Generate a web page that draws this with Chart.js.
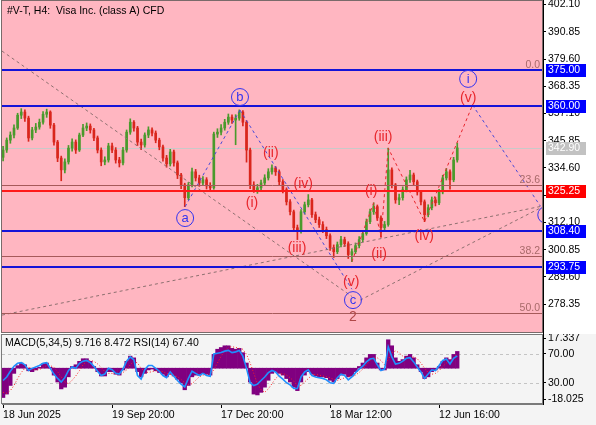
<!DOCTYPE html>
<html><head><meta charset="utf-8">
<script src="https://cdn.jsdelivr.net/npm/chart.js@4/dist/chart.umd.min.js"></script>
<style>
html,body{margin:0;padding:0;background:#fff;width:596px;height:425px;overflow:hidden}
#c1{position:absolute;left:0;top:0}
#c2{position:absolute;left:0;top:334px}
</style></head><body>
<canvas id="c1" width="596" height="334"></canvas>
<canvas id="c2" width="596" height="91"></canvas>
<script>
// ---------- DATA ----------
const dateTicks = [0, 30, 60, 90, 120];
const dateLabels = ['18 Jun 2025', '19 Sep 20:00', '17 Dec 20:00', '18 Mar 12:00', '12 Jun 16:00'];
const priceTicks = [402.10, 390.85, 379.60, 368.35, 357.10, 345.85, 334.60, 323.35, 312.10, 300.85, 289.60, 278.35];

const opens = [339.0,342.0,346.1,348.2,351.1,356.4,357.7,355.2,347.0,350.3,
351.5,353.5,356.8,357.7,352.3,345.3,338.7,333.8,337.1,342.8,
345.3,342.0,348.2,351.1,351.9,350.3,347.0,342.0,337.1,337.9,
343.7,342.0,337.9,336.7,342.0,349.4,353.5,351.1,345.3,344.1,
348.2,350.3,349.0,346.1,343.3,338.7,336.3,341.2,336.7,331.7,
327.6,322.3,327.6,333.0,330.5,328.4,329.7,327.2,326.4,348.6,
349.4,351.1,353.5,355.6,354.4,355.2,357.7,353.5,342.0,327.6,
325.6,326.4,328.4,330.5,333.0,334.6,333.0,328.9,325.6,320.6,
316.5,309.9,308.3,316.5,319.4,321.4,315.3,313.2,311.2,309.1,
306.6,301.7,300.0,302.9,305.0,303.3,298.8,300.0,302.5,305.0,
307.5,312.4,316.5,318.6,314.0,309.9,311.2,333.8,327.6,321.4,
322.3,325.6,329.7,331.7,328.9,324.7,320.6,315.3,318.2,321.4,
320.2,324.7,330.5,333.0,329.7,337.9];
const closes = [342.0,346.1,348.2,351.1,356.4,357.7,355.2,347.0,350.3,351.5,
353.5,356.8,357.7,352.3,345.3,338.7,333.8,337.1,342.8,345.3,
342.0,348.2,351.1,351.9,350.3,347.0,342.0,337.1,337.9,343.7,
342.0,337.9,336.7,342.0,349.4,353.5,351.1,345.3,344.1,348.2,
350.3,349.0,346.1,343.3,338.7,336.3,341.2,336.7,331.7,327.6,
322.3,327.6,333.0,330.5,328.4,329.7,327.2,326.4,348.6,349.4,
351.1,353.5,355.6,354.4,355.2,357.7,353.5,342.0,327.6,325.6,
326.4,328.4,330.5,333.0,334.6,333.0,328.9,325.6,320.6,316.5,
309.9,308.3,316.5,319.4,321.4,315.3,313.2,311.2,309.1,306.6,
301.7,300.0,302.9,305.0,303.3,298.8,300.0,302.5,305.0,307.5,
312.4,316.5,318.6,314.0,309.9,311.2,333.8,327.6,321.4,322.3,
325.6,329.7,331.7,328.9,324.7,320.6,315.3,318.2,321.4,320.2,
324.7,330.5,333.0,329.7,337.9,342.9];
const highs = [343.5,347.0,349.5,352.4,357.2,359.1,358.6,356.0,351.4,353.0,
354.8,357.9,358.9,358.2,353.0,346.0,339.5,338.4,343.9,346.6,
346.2,349.0,352.6,353.2,352.8,351.0,347.8,342.9,339.2,344.8,
344.9,343.0,339.0,343.1,350.3,354.9,354.2,351.8,346.5,349.1,
351.6,351.2,349.9,346.9,344.1,339.8,342.3,342.0,337.5,332.4,
328.3,328.6,334.5,334.0,331.6,331.0,330.6,328.5,349.4,350.8,
352.5,354.7,356.9,356.5,356.6,358.6,358.3,354.2,342.8,328.9,
327.8,329.6,331.8,334.3,335.9,335.2,333.8,329.8,326.4,321.5,
317.2,311.0,317.4,320.5,323.6,322.0,316.4,314.3,312.4,310.2,
307.4,302.8,304.0,306.3,306.0,304.1,301.2,303.6,306.2,308.8,
313.5,317.6,320.2,319.3,314.8,312.5,342.8,334.6,328.2,323.8,
326.8,330.9,333.6,332.5,329.6,325.4,321.4,319.4,322.6,322.4,
325.8,331.6,334.4,333.8,339.0,344.9];
const lows = [337.5,341.0,344.8,347.0,350.5,355.0,353.8,345.6,346.2,349.2,
350.6,352.7,355.5,351.0,344.0,337.2,329.3,332.5,336.2,341.5,
340.6,341.4,347.5,350.0,349.0,345.9,340.8,335.5,335.9,337.0,
340.9,336.6,335.0,335.9,341.1,348.5,349.8,343.9,342.2,343.2,
347.1,347.8,345.0,342.1,337.4,334.9,335.4,335.3,330.2,326.0,
318.6,321.5,326.8,329.2,327.0,327.4,325.9,325.2,325.8,347.2,
348.3,350.2,352.6,353.0,344.2,354.3,352.0,337.0,326.0,324.5,
324.1,325.5,327.5,329.6,332.0,331.5,327.6,324.3,319.3,315.2,
308.4,305.0,307.6,315.5,318.5,314.2,312.0,310.0,307.9,305.4,
300.5,297.6,299.2,302.0,302.1,297.2,295.9,299.2,301.6,304.1,
306.8,311.6,315.4,312.9,306.0,308.7,310.5,326.3,320.0,319.4,
321.3,324.7,328.6,327.7,323.4,319.3,312.4,314.4,317.3,318.9,
319.4,323.9,329.6,325.8,328.9,337.0];

const macdMain = [-17,-15,-10,-3,1.5,3,2,-1.5,-2,-1,
0.5,2.5,3,0.5,-4,-8,-12,-11,-5,1,
2,4,5.5,5.5,4,1,-2,-4.5,-4.5,-2,
-2,-3.5,-4,-1,4,7,6,-2,-5,-3,
-1,-0.5,-1.5,-2.5,-3.5,-5,-3.5,-4.5,-6.5,-8.5,
-12.5,-10,-5,-4,-4,-3,-3.5,-4,8,11,
12,13,13,11.5,11,11.5,9,3,-8,-15,
-15.5,-14,-11,-7,-3,-2,-3,-4,-6,-8,
-11,-13,-8,-4,-2,-3.5,-4.5,-5,-5,-5.5,
-7,-8,-6,-4,-3.5,-5,-4.5,-2,1,3,
6,8,8,3,-1,-1,16.5,13,6,4,
5,7,8,6,2,-2,-6,-5,-2,-1,
1,4,6,5,8,9.716];
const macdSignal = [-14,-14.5,-13,-10,-6,-2.5,0,0.5,-0.5,-1,
-0.8,0.5,1.5,1.5,0.5,-2,-5,-8,-9,-7,
-4.5,-1.5,2,4,4.5,4,2.5,0.5,-2,-3,
-3,-3,-3,-2.5,-1,2,4,3,0,-2,
-2.5,-2,-1.5,-1.5,-2,-3,-3.5,-4,-5,-6.5,
-8.5,-9.5,-9,-7,-5,-4,-3.5,-3.5,-1,3,
7,10,12,12.5,12,11.5,11,8,3,-3,
-9,-12.5,-14,-12,-9,-6,-4,-3,-4,-5.5,
-7.5,-10,-10,-8,-6,-4,-3.5,-4,-4.5,-5,
-5.5,-6.5,-7,-6.5,-5.5,-5,-4.5,-4,-2.5,-0.5,
2,4.5,6,6,4.5,2,5,9,10,9,
7,5.5,6,6.5,5.5,3,0,-2.5,-3.5,-3,
-1.5,1,3,4.5,6,8.472];
const rsi = [33,38,46,53,57,58,55,47,50,52,
54,57,58,50,42,36,31,37,47,52,
50,57,60,61,58,53,46,40,42,50,
48,43,42,49,60,66,62,40,35,48,
54,54,50,46,40,37,45,39,33,28,
24,36,46,43,40,43,40,39,70,71,
72,74,75,72,73,75,67,50,30,26,
28,33,38,44,47,45,39,35,30,27,
22,22,38,45,48,40,38,37,36,34,
30,29,37,42,40,34,38,44,49,53,
59,63,64,55,47,49,80,66,56,57,
60,64,65,59,52,45,36,42,48,47,
54,61,63,56,64,67.4];

// horizontal levels
const blueLevels = [375.00, 360.00, 308.40, 293.75];
const redLevel = 325.25;
const lastPrice = 342.90;
const fibLevels = [375.0, 327.7, 298.4, 274.8];
const fibNames = ['0.0', '23.6', '38.2', '50.0'];

// wave lines [index, price]
const grayLineA = [[-0.3, 382.9], [96.0, 281.5]];
const grayLineB = [[-0.3, 273.8], [148.6, 318.9]];
const grayLineC = [[98.3, 280.0], [147.8, 318.0]];
const waveAB = [[50.1, 318.6], [65.2, 358.5]];
const waveBC = [[65.2, 358.5], [96.0, 284.5]];
const waveNext = [[129.2, 360.6], [147.9, 318.8]];
const impulse = [[96, 295.9], [102, 320.2], [104, 306.0], [106, 342.8], [116, 312.4], [129.2, 360.6]];

// wave labels
const tagText = ['(i)', '(ii)', '(iii)', '(iv)', '(v)', '2', '(i)', '(ii)', '(iii)', '(iv)', '(v)'];
const tagX = [68.5, 73.7, 80.9, 82.6, 95.8, 96.3, 101.3, 103.5, 104.6, 115.9, 128.0];
const tagY = [320.1, 340.8, 301.5, 328.0, 287.5, 273.0, 325.1, 299.0, 347.4, 306.5, 363.5];
const circText = ['a', 'b', 'c', 'i', ''];
const circX = [50.1, 65.2, 96.3, 128.0, 149.5];
const circY = [313.9, 363.9, 280.0, 371.4, 315.2];

// MACD panel axis labels
const macdTickVals = [17.337, 8.24, -8.40, -18.025];
const macdTickText = ['17.337', '70.00', '30.00', '-18.025'];
const rsiLevels = [70, 30];

// ---------- STYLE ----------
const FONT = 'Liberation Sans, Arial, sans-serif';
const UP = '#4a9a2c', DOWN = '#d9261c';
const candleColors = closes.map((c, i) => c >= opens[i] ? UP : DOWN);
const toXY = arr => arr.map(p => ({x: p[0], y: p[1]}));
const dashLine = (pts, color) => ({type: 'line', data: toXY(pts), borderColor: color, borderWidth: 1,
  borderDash: [3, 3], pointRadius: 0, fill: false, tension: 0, order: 0, clip: 0});

function hline(chart, v, color, w, dash) {
  const {ctx, chartArea: a, scales: {y}} = chart;
  const py = Math.round(y.getPixelForValue(v)) + (w % 2 ? 0.5 : 0);
  ctx.save();
  ctx.strokeStyle = color; ctx.lineWidth = w; ctx.setLineDash(dash || []);
  ctx.beginPath(); ctx.moveTo(a.left, py); ctx.lineTo(a.right, py); ctx.stroke();
  ctx.restore();
}
function box(chart, v, bg, fg) {
  const {ctx, chartArea: a, scales: {y}} = chart;
  const py = Math.round(y.getPixelForValue(v));
  ctx.save();
  ctx.fillStyle = bg; ctx.fillRect(a.right + 3, py - 6, 40, 13);
  ctx.fillStyle = fg; ctx.font = '10.5px ' + FONT; ctx.textBaseline = 'middle'; ctx.textAlign = 'left';
  ctx.fillText(v.toFixed(2), a.right + 5, py + 0.5);
  ctx.restore();
}

const mainPlugin = {
  id: 'mainOverlay',
  beforeDraw(chart) {
    const {ctx, chartArea: a} = chart;
    ctx.save();
    ctx.fillStyle = '#ffffff'; ctx.fillRect(0, 0, chart.width, chart.height);
    ctx.fillStyle = '#ffb6c1'; ctx.fillRect(a.left, a.top, a.right - a.left, a.bottom - a.top);
    ctx.restore();
  },
  beforeDatasetsDraw(chart) {
    hline(chart, lastPrice, '#c9c9c9', 1);
  },
  afterDatasetsDraw(chart) {
    const {ctx, chartArea: a, scales: {x, y}} = chart;
    fibLevels.forEach(v => hline(chart, v, '#a65a5a', 1));
    hline(chart, redLevel, '#ff1a1a', 2);
    blueLevels.forEach(v => hline(chart, v, '#1414d8', 2));
    ctx.save();
    ctx.beginPath(); ctx.rect(a.left, a.top, a.right - a.left, a.bottom - a.top); ctx.clip();
    // fib labels
    ctx.font = '10.5px ' + FONT; ctx.fillStyle = '#a86a6a'; ctx.textAlign = 'right'; ctx.textBaseline = 'alphabetic';
    fibLevels.forEach((v, i) => ctx.fillText(fibNames[i], a.right - 3, y.getPixelForValue(v) - 2));
    // red wave labels
    ctx.textAlign = 'center'; ctx.textBaseline = 'middle';
    tagText.forEach((t, i) => {
      ctx.font = '14px ' + FONT;
      ctx.fillStyle = t === '2' ? '#b04848' : '#e8262c';
      ctx.fillText(t, x.getPixelForValue(tagX[i]), y.getPixelForValue(tagY[i]));
    });
    // circle labels
    ctx.strokeStyle = '#3434f0'; ctx.fillStyle = '#3434f0'; ctx.lineWidth = 1;
    circText.forEach((t, i) => {
      const px = x.getPixelForValue(circX[i]), py = y.getPixelForValue(circY[i]);
      ctx.beginPath(); ctx.arc(px, py, 8.5, 0, Math.PI * 2); ctx.stroke();
      ctx.font = '13px ' + FONT;
      ctx.fillText(t, px, py + 0.5);
    });
    ctx.restore();
    // border
    ctx.save();
    ctx.strokeStyle = '#7a6a6a'; ctx.lineWidth = 1;
    ctx.strokeRect(a.left - 0.5, a.top + 0.5, a.right - a.left, a.bottom - a.top - 1);
    // title
    ctx.fillStyle = '#000'; ctx.font = '10.5px ' + FONT; ctx.textAlign = 'left'; ctx.textBaseline = 'alphabetic';
    ctx.fillText('#V-T, H4:  Visa Inc. (class A) CFD', 7, 14);
    ctx.restore();
    // axis boxes
    box(chart, lastPrice, '#c2c2c2', '#ffffff');
    box(chart, redLevel, '#ff0000', '#ffffff');
    blueLevels.forEach(v => box(chart, v, '#0000ff', '#ffffff'));
  }
};

const bodies = closes.map((c, i) => ({x: i, y: [opens[i], c]}));
const wicks = closes.map((c, i) => ({x: i, y: [lows[i], highs[i]]}));

new Chart(document.getElementById('c1'), {
  type: 'bar',
  data: {
    datasets: [
      {type: 'bar', data: bodies, backgroundColor: candleColors, barThickness: 2, grouped: false, order: 1},
      {type: 'bar', data: wicks, backgroundColor: candleColors, barThickness: 1, grouped: false, order: 2},
      dashLine(grayLineA, '#8e7070'),
      dashLine(grayLineB, '#8e7070'),
      dashLine(grayLineC, '#8e7070'),
      dashLine(waveAB, '#4a4ad8'),
      dashLine(waveBC, '#4a4ad8'),
      dashLine(waveNext, '#4a4ad8'),
      dashLine(impulse, '#e8262c')
    ]
  },
  options: {
    responsive: false, animation: false, devicePixelRatio: 1,
    layout: {padding: {left: 2, top: 0, right: 0, bottom: 1}},
    plugins: {legend: {display: false}, tooltip: {enabled: false}},
    scales: {
      x: {type: 'linear', min: -0.3, max: 148.6, display: false, offset: false, grid: {offset: false}},
      y: {
        position: 'right', min: 266.4, max: 404.0,
        afterFit(s) { s.width = 53; s.paddingTop = 0; s.paddingBottom = 0; },
        afterBuildTicks(s) { s.ticks = priceTicks.map(v => ({value: v})); },
        ticks: {callback: v => Number(v).toFixed(2), color: '#000', font: {family: FONT, size: 10.5}, padding: 2},
        grid: {drawOnChartArea: false, drawTicks: true, tickLength: 3, color: '#000'},
        border: {display: true, color: '#000'}
      }
    }
  },
  plugins: [mainPlugin]
});

// ---------- LOWER PANEL ----------
const lowPlugin = {
  id: 'lowOverlay',
  beforeDraw(chart) {
    const {ctx, chartArea: a} = chart;
    ctx.save();
    ctx.fillStyle = '#f4f4f4'; ctx.fillRect(0, 0, chart.width, chart.height);
    ctx.restore();
  },
  beforeDatasetsDraw(chart) {
    const {ctx, chartArea: a, scales: {yr}} = chart;
    ctx.save();
    ctx.strokeStyle = '#c4c4c4'; ctx.lineWidth = 1; ctx.setLineDash([3, 3]);
    rsiLevels.forEach(v => {
      const py = Math.round(yr.getPixelForValue(v)) + 0.5;
      ctx.beginPath(); ctx.moveTo(a.left, py); ctx.lineTo(a.right, py); ctx.stroke();
    });
    ctx.restore();
  },
  afterDatasetsDraw(chart) {
    const {ctx, chartArea: a} = chart;
    ctx.save();
    ctx.strokeStyle = '#7a7a7a'; ctx.lineWidth = 1;
    ctx.strokeRect(a.left - 0.5, a.top + 0.5, a.right - a.left, a.bottom - a.top - 1);
    ctx.fillStyle = '#000'; ctx.font = '10.5px ' + FONT; ctx.textAlign = 'left'; ctx.textBaseline = 'alphabetic';
    ctx.fillText('MACD(5,34,5) 9.716 8.472 RSI(14) 67.40', 5, 12);
    ctx.restore();
  }
};

new Chart(document.getElementById('c2'), {
  type: 'bar',
  data: {
    datasets: [
      {type: 'line', data: rsi.map((v, i) => ({x: i, y: v})), yAxisID: 'yr', borderColor: '#1e8fff',
        borderWidth: 1.6, pointRadius: 0, fill: false, tension: 0, order: 0},
      {type: 'line', data: macdSignal.map((v, i) => ({x: i, y: v})), yAxisID: 'y', borderColor: '#ff2020',
        borderWidth: 1, borderDash: [1, 2], pointRadius: 0, fill: false, tension: 0, order: 1},
      {type: 'bar', data: macdMain.map((v, i) => ({x: i, y: v})), yAxisID: 'y', backgroundColor: '#800080',
        barPercentage: 1, categoryPercentage: 1, grouped: false, order: 2}
    ]
  },
  options: {
    responsive: false, animation: false, devicePixelRatio: 1,
    layout: {padding: {left: 2, top: 0, right: 0, bottom: 0}},
    plugins: {legend: {display: false}, tooltip: {enabled: false}},
    scales: {
      x: {
        type: 'linear', min: -0.3, max: 148.6, offset: false,
        afterFit(s) { s.height = 21; s.paddingLeft = 0; s.paddingRight = 0; },
        afterBuildTicks(s) { s.ticks = dateTicks.map(v => ({value: v})); },
        ticks: {callback: v => dateLabels[dateTicks.indexOf(v)], align: 'start', autoSkip: false,
          maxRotation: 0, minRotation: 0, color: '#000', font: {family: FONT, size: 10.5}, padding: 1},
        grid: {drawOnChartArea: false, drawTicks: true, tickLength: 4, color: '#000', offset: false},
        border: {display: true, color: '#7a7a7a'}
      },
      y: {
        position: 'right', min: -20.75, max: 19.83,
        afterFit(s) { s.width = 53; s.paddingTop = 0; s.paddingBottom = 0; },
        afterBuildTicks(s) { s.ticks = macdTickVals.map(v => ({value: v})); },
        ticks: {callback: v => macdTickText[macdTickVals.indexOf(v)], color: '#000', font: {family: FONT, size: 10.5}, padding: 2},
        grid: {drawOnChartArea: false, drawTicks: true, tickLength: 3, color: '#000'},
        border: {display: true, color: '#000'}
      },
      yr: {position: 'right', min: 0.3, max: 97.9, display: false}
    }
  },
  plugins: [lowPlugin]
});
</script>
</body></html>
